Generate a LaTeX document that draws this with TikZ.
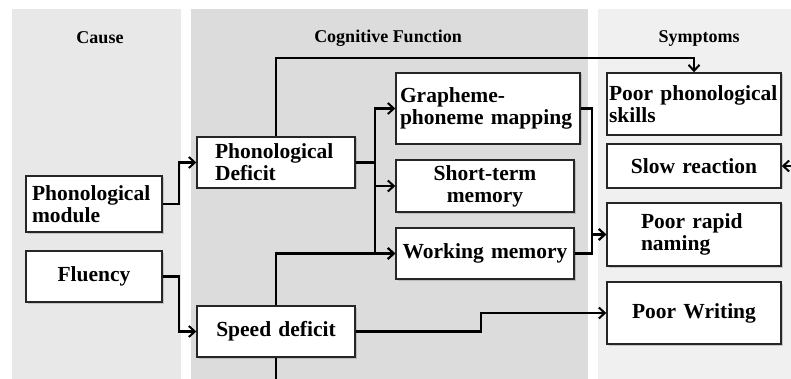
\documentclass[tikz,border=0pt]{standalone}
\usepackage{fontspec}
\setmainfont{Liberation Serif}
\usetikzlibrary{arrows.meta,shadows,calc}
\definecolor{causebg}{RGB}{232,232,232}
\definecolor{cogbg}{RGB}{220,220,220}
\definecolor{sympbg}{RGB}{240,240,240}
\begin{document}
\begin{tikzpicture}[x=1pt,y=-1pt,
  box/.style={draw=black!85, line width=1.4pt, fill=white,
    font=\bfseries\fontsize{21.5}{22}\selectfont,
    drop shadow={opacity=0.35,shadow xshift=1.5pt,shadow yshift=-1.5pt},
    inner ysep=0pt},
  conn/.style={line width=2.3pt, draw=black},
  arr/.style={conn, -{Straight Barb[length=6pt,width=11pt,line width=2pt]}},
  title/.style={font=\bfseries\fontsize{18}{20}\selectfont}]
\useasboundingbox (0,0) rectangle (791,379);
\fill[white] (0,0) rectangle (791,379);
% panels
\fill[causebg] (12,9) rectangle (181,379);
\fill[cogbg] (191,9) rectangle (588,379);
\fill[sympbg] (598,9) rectangle (791,379);
% titles
\node[title] (tcause) at (100,38) {Cause};
\node[title] (tcog) at (388,38) {Cognitive Function};
\node[title] (tsymp) at (699,38) {Symptoms};
% cause boxes
\node[box, inner xsep=6pt, text width=124pt, minimum height=56pt, align=left] (pm) at (94,204) {Phonological\\module};
\node[box, inner xsep=4pt, text width=128pt, minimum height=51pt, align=center] (flu) at (94,276.5) {Fluency};
% cognitive boxes
\node[box, inner xsep=18pt, text width=122pt, minimum height=51pt, align=left] (pd) at (276,162.5) {Phonological\\Deficit};
\node[box, inner xsep=4pt, text width=150pt, minimum height=51pt, align=center] (sd) at (276,331.5) {Speed deficit};
\node[box, inner xsep=4pt, text width=176pt, minimum height=71pt, align=left] (gp) at (488,108.5) {Grapheme-\\\mbox{phoneme mapping}};
\node[box, inner xsep=4pt, text width=170pt, minimum height=52pt, align=center] (stm) at (485,186) {Short-term\\memory};
\node[box, inner xsep=3pt, text width=172pt, minimum height=51pt, align=center] (wm) at (485,253.5) {Working memory};
% symptom boxes
\node[box, inner xsep=2pt, text width=170pt, minimum height=62pt, align=left] (pps) at (694,104) {\mbox{Poor phonological}\\skills};
\node[box, inner xsep=4pt, text width=166pt, minimum height=44pt, align=center] (sr) at (694,166) {Slow reaction};
\node[box, inner xsep=34pt, text width=106pt, minimum height=63pt, align=left] (prn) at (694,234.5) {Poor rapid\\naming};
\node[box, inner xsep=4pt, text width=166pt, minimum height=62pt, align=center] (pw) at (694,313) {Poor Writing};
% helper coordinates
\coordinate (b1) at (179,0);
\coordinate (b2) at (375,0);
\coordinate (b3) at (481,0);
\coordinate (b4) at (592,0);
\coordinate (top) at (0,58);
\coordinate (bot) at (276,379);
\coordinate (rt) at (791,166);
% connectors
\draw[arr] (pm.east) -- (pm.east -| b1) |- (pd.west);
\draw[arr] (flu.east) -- (flu.east -| b1) |- (sd.west);
\draw[arr] (pd.north) -- (pd.north |- top) -| (pps.north);
\draw[arr] (pd.east) -- (pd.east -| b2) |- (gp.west);
\draw[arr] (pd.east) -- (pd.east -| b2) |- (stm.west);
\draw[arr] (pd.east) -- (pd.east -| b2) |- (wm.west);
\draw[arr] (sd.north) |- (wm.west);
\draw[conn] (sd.south) -- (bot);
\draw[arr] (sd.east) -- (sd.east -| b3) |- (pw.west);
\draw[arr] (gp.east) -- (gp.east -| b4) |- (prn.west);
\draw[arr] (wm.east) -- (wm.east -| b4) |- (prn.west);
\draw[arr] (rt) -- (sr.east);
\end{tikzpicture}
\end{document}
